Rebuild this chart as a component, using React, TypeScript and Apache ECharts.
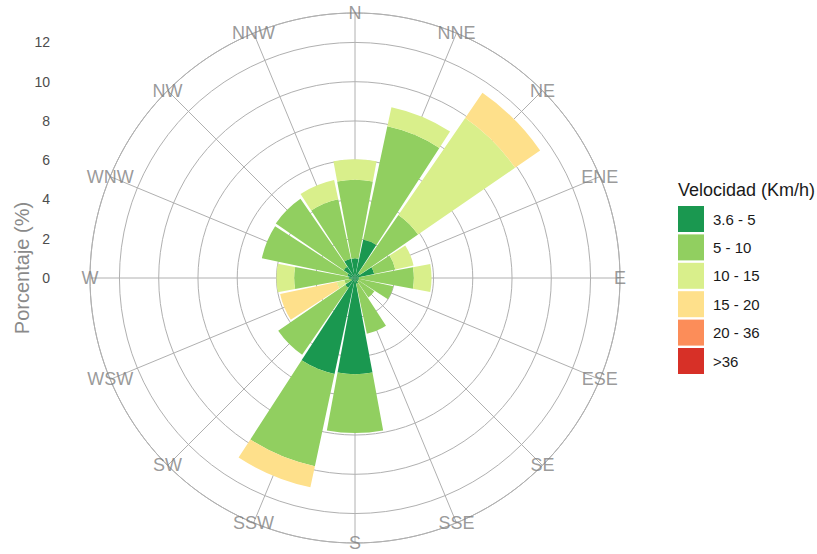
import React, { useEffect, useRef } from 'react';
import * as echarts from 'echarts';

const directions = ['N', 'NNE', 'NE', 'ENE', 'E', 'ESE', 'SE', 'SSE', 'S', 'SSW', 'SW', 'WSW', 'W', 'WNW', 'NW', 'NNW'];
const speedClasses = ['3.6 - 5', '5 - 10', '10 - 15', '15 - 20', '20 - 36', '>36'];
const speedColors = ['#1a9850', '#91cf60', '#d9ef8b', '#fee08b', '#fc8d59', '#d73027'];

// Percentage per direction for each speed class (stacked)
const v3_6to5 = [1.0, 2.0, 0.3, 1.0, 0.2, 0.2, 0.2, 0.3, 4.9, 5.0, 0.6, 0.2, 0.3, 0.4, 0.7, 1.0];
const v5to10 = [4.0, 5.9, 3.6, 1.1, 2.8, 1.8, 1.0, 2.6, 3.0, 4.8, 4.15, 0.35, 2.8, 4.45, 4.2, 3.1];
const v10to15 = [1.05, 1.0, 6.0, 0.95, 0.9, 0, 0, 0, 0, 0, 0, 0.4, 0.9, 0, 0, 1.0];
const v15to20 = [0, 0, 1.55, 0, 0, 0, 0, 0, 0, 1.1, 0, 2.95, 0, 0, 0, 0];
const v20to36 = [0, 0, 0, 0, 0, 0, 0, 0, 0, 0, 0, 0, 0, 0, 0, 0];
const vOver36 = [0, 0, 0, 0, 0, 0, 0, 0, 0, 0, 0, 0, 0, 0, 0, 0];
const seriesValues = [v3_6to5, v5to10, v10to15, v15to20, v20to36, vOver36];

const radialMax = 13.5;
const radialInterval = 2;

const FONT = '"Liberation Sans", Arial, sans-serif';

export default function App() {
  const ref = useRef<HTMLDivElement>(null);
  useEffect(() => {
    if (!ref.current) return;
    const chart = echarts.init(ref.current, undefined, { renderer: 'svg' });
    const cx = 355;
    const cy = 278;
    const R = 265;
    const gridColor = '#b0b0b0';
    const option: any = {
      animation: false,
      backgroundColor: '#ffffff',
      textStyle: { fontFamily: FONT },
      polar: [
        { center: [cx, cy], radius: R },
        { center: [cx, cy], radius: R },
      ],
      angleAxis: [
        {
          polarIndex: 0,
          type: 'category',
          data: directions,
          startAngle: 90 + 360 / directions.length / 2,
          clockwise: true,
          axisLine: { show: false },
          axisTick: { show: false },
          axisLabel: { show: false },
          splitLine: { show: false },
        },
        {
          polarIndex: 1,
          type: 'value',
          min: 0,
          max: 360,
          interval: 22.5,
          startAngle: 90,
          clockwise: true,
          axisLine: { show: true, lineStyle: { color: gridColor, width: 1 } },
          axisTick: { show: false },
          axisLabel: { show: false },
          splitLine: { show: true, lineStyle: { color: gridColor, width: 1 } },
          z: 0,
        },
      ],
      radiusAxis: [
        {
          polarIndex: 0,
          type: 'value',
          min: 0,
          max: radialMax,
          axisLine: { show: false },
          axisTick: { show: false },
          axisLabel: { show: false },
          splitLine: { show: false },
        },
        {
          polarIndex: 1,
          type: 'value',
          min: 0,
          max: radialMax,
          interval: radialInterval,
          axisLine: { show: false },
          axisTick: { show: false },
          axisLabel: { show: false },
          splitLine: { show: true, lineStyle: { color: gridColor, width: 1 } },
          z: 0,
        },
      ],
      grid: { left: 53, width: 1, top: cy - R, height: R },
      xAxis: { type: 'value', show: false, min: 0, max: 1 },
      yAxis: {
        type: 'value',
        min: 0,
        max: radialMax,
        interval: radialInterval,
        axisLine: { show: false },
        axisTick: { show: false },
        splitLine: { show: false },
        axisLabel: {
          color: '#4d4d4d',
          fontSize: 14,
          margin: 3,
          fontFamily: FONT,
          formatter: (v: number) => (v % radialInterval === 0 ? String(v) : ''),
        },
      },
      legend: {
        data: speedClasses,
        orient: 'vertical',
        left: 678,
        top: 206,
        padding: 0,
        itemWidth: 26,
        itemHeight: 26,
        itemGap: 2.4,
        icon: 'rect',
        selectedMode: false,
        textStyle: { fontSize: 15, color: '#1a1a1a', fontFamily: FONT, padding: [0, 0, 0, 4] },
      },
      graphic: [
        {
          type: 'text',
          x: 678,
          y: 190,
          style: {
            text: 'Velocidad (Km/h)',
            fontSize: 18,
            fill: '#1a1a1a',
            fontFamily: FONT,
            verticalAlign: 'middle',
            align: 'left',
          },
        },
        {
          type: 'text',
          x: 22,
          y: 268,
          rotation: Math.PI / 2,
          style: {
            text: 'Porcentaje (%)',
            fontSize: 20,
            fill: '#8a8a8a',
            fontFamily: FONT,
            verticalAlign: 'middle',
            align: 'center',
          },
        },
      ],
      series: [
        ...speedClasses.map((name, i) => ({
          name,
          type: 'bar',
          coordinateSystem: 'polar',
          polarIndex: 0,
          stack: 'total',
          barCategoryGap: '7%',
          itemStyle: { color: speedColors[i] },
          data: seriesValues[i],
          silent: true,
          z: 2,
        })),
        {
          type: 'scatter',
          coordinateSystem: 'polar',
          polarIndex: 0,
          symbolSize: 0,
          silent: true,
          z: 5,
          data: directions.map((d) => ({ name: d, value: [radialMax, d] })),
          label: {
            show: true,
            position: 'inside',
            formatter: (p: any) => p.name,
            fontSize: 18,
            color: '#7f7f7f',
            fontFamily: FONT,
          },
        },
      ],
    };
    chart.setOption(option);
    return () => chart.dispose();
  }, []);
  return (
    <div
      ref={ref}
      style={{ position: 'fixed', left: 0, top: 0, width: 817, height: 554 }}
    />
  );
}
